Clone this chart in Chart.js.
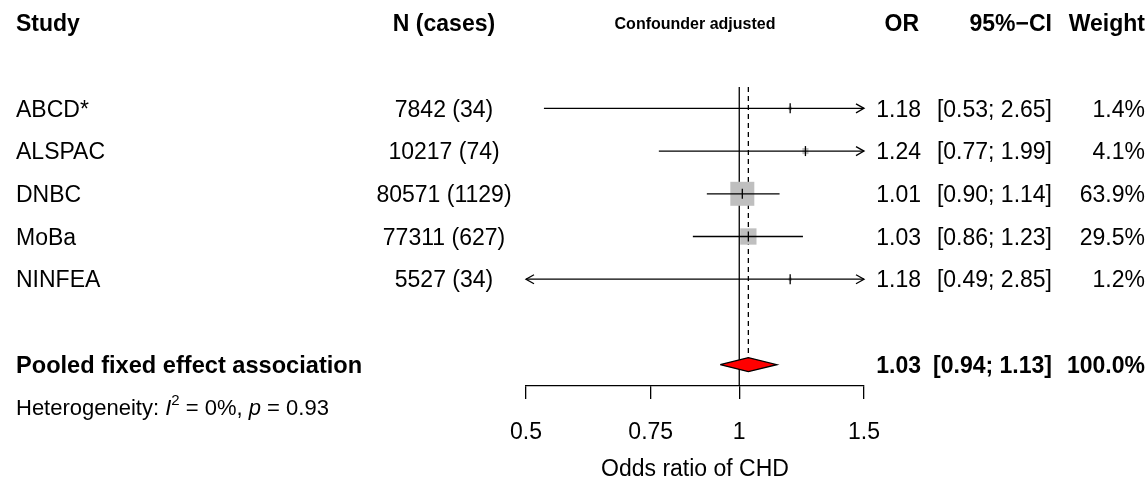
<!DOCTYPE html>
<html>
<head>
<meta charset="utf-8">
<script src="https://cdn.jsdelivr.net/npm/chart.js@4"></script>
<style>
  html, body { margin: 0; padding: 0; background: #fff; }
</style>
</head>
<body>
<canvas id="forest" width="1148" height="483"></canvas>
<script>
// study level data
const studies = ["ABCD*", "ALSPAC", "DNBC", "MoBa", "NINFEA"];
const nCases = ["7842 (34)", "10217 (74)", "80571 (1129)", "77311 (627)", "5527 (34)"];
const orValues = [1.18, 1.24, 1.01, 1.03, 1.18];
const ciLower = [0.53, 0.77, 0.90, 0.86, 0.49];
const ciUpper = [2.65, 1.99, 1.14, 1.23, 2.85];
const weights = [1.4, 4.1, 63.9, 29.5, 1.2];

// pooled estimate
const pooledLabel = "Pooled fixed effect association";
const pooledOR = 1.03;
const pooledLower = 0.94;
const pooledUpper = 1.13;
const pooledWeight = 100.0;
const hetI2 = "0%";
const hetP = "0.93";

// axis
const xTicks = [0.5, 0.75, 1, 1.5];
const xMin = 0.5;
const xMax = 1.5;

const FONT = "'Liberation Sans', Arial, Helvetica, sans-serif";
const FS = 23;
const LW = 1.3;
Chart.defaults.font.family = FONT;
Chart.defaults.color = "#000";

const studyRow = (i) => i + 2;
const pooledRow = 8;
const hetRow = 9;
const diamondHalf = 0.165;
const maxSquare = 24;

const fmt2 = (v) => v.toFixed(2);
const fmtW = (v) => v.toFixed(1) + "%";
const clampX = (v) => Math.min(Math.max(v, xMin), xMax);

const datasets = [];

// solid reference line at OR = 1
datasets.push({
  data: [{ x: 1, y: 1.5 }, { x: 1, y: 8.5 }],
  showLine: true, borderColor: "#000", borderWidth: LW, pointRadius: 0, order: 5,
});
// dashed line at pooled estimate
datasets.push({
  data: [{ x: pooledOR, y: 1.5 }, { x: pooledOR, y: pooledRow - diamondHalf }],
  showLine: true, borderColor: "#000", borderWidth: LW, borderDash: [5, 4], pointRadius: 0, order: 5,
});
// confidence intervals
studies.forEach((s, i) => {
  datasets.push({
    data: [{ x: clampX(ciLower[i]), y: studyRow(i) }, { x: clampX(ciUpper[i]), y: studyRow(i) }],
    showLine: true, borderColor: "#000", borderWidth: LW, pointRadius: 0, order: 3,
  });
});
// weighted squares
datasets.push({
  data: orValues.map((v, i) => ({ x: v, y: studyRow(i) })),
  pointStyle: "rect",
  pointRadius: weights.map((w) => (maxSquare * Math.sqrt(w / Math.max(...weights))) / Math.SQRT2),
  backgroundColor: "#bfbfbf", borderWidth: 0, order: 4,
});
// point estimate ticks
datasets.push({
  data: orValues.map((v, i) => ({ x: v, y: studyRow(i) })),
  pointStyle: "line", rotation: 90, pointRadius: 5,
  borderColor: "#000", borderWidth: LW, order: 1,
});
// pooled diamond
datasets.push({
  data: [
    { x: pooledLower, y: pooledRow },
    { x: pooledOR, y: pooledRow - diamondHalf },
    { x: pooledUpper, y: pooledRow },
    { x: pooledOR, y: pooledRow + diamondHalf },
    { x: pooledLower, y: pooledRow },
  ],
  showLine: true, fill: "shape", backgroundColor: "#ff0000",
  borderColor: "#000", borderWidth: LW, pointRadius: 0, order: 0,
});

const tablePlugin = {
  id: "table",
  afterDraw(chart) {
    const ctx = chart.ctx;
    const xs = chart.scales.x;
    const ys = chart.scales.y;
    const base = (row, size) => ys.getPixelForValue(row) + 0.358 * size;
    const put = (txt, x, row, align, weight, size) => {
      size = size || FS;
      ctx.font = (weight || "normal") + " " + size + "px " + FONT;
      ctx.textAlign = align;
      ctx.textBaseline = "alphabetic";
      ctx.fillText(txt, x, base(row, size));
    };
    ctx.save();
    ctx.fillStyle = "#000";

    // headers
    put("Study", 16, 0, "left", "bold");
    put("N (cases)", 444, 0, "center", "bold");
    put("Confounder adjusted", (chart.chartArea.left + chart.chartArea.right) / 2, 0, "center", "bold", 16);
    put("OR", 919, 0, "right", "bold");
    put("95%\u2212CI", 1052, 0, "right", "bold");
    put("Weight", 1145, 0, "right", "bold");

    // study rows
    studies.forEach((s, i) => {
      const r = studyRow(i);
      put(s, 16, r, "left");
      put(nCases[i], 444, r, "center");
      put(fmt2(orValues[i]), 921, r, "right");
      put("[" + fmt2(ciLower[i]) + "; " + fmt2(ciUpper[i]) + "]", 1052, r, "right");
      put(fmtW(weights[i]), 1145, r, "right");
    });

    // pooled row
    put(pooledLabel, 16, pooledRow, "left", "bold", 23.6);
    put(fmt2(pooledOR), 921, pooledRow, "right", "bold");
    put("[" + fmt2(pooledLower) + "; " + fmt2(pooledUpper) + "]", 1052, pooledRow, "right", "bold");
    put(fmtW(pooledWeight), 1145, pooledRow, "right", "bold");

    // heterogeneity line with italic + superscript
    const hs = 22;
    const yb = base(hetRow, hs);
    let x = 16;
    ctx.textAlign = "left";
    const piece = (txt, style, size, dy) => {
      ctx.font = style + " " + size + "px " + FONT;
      ctx.fillText(txt, x, yb + (dy || 0));
      x += ctx.measureText(txt).width;
    };
    piece("Heterogeneity: ", "normal", hs);
    piece("I", "italic", hs);
    piece("2", "normal", 15, -10);
    piece(" = " + hetI2 + ", ", "normal", hs);
    piece("p", "italic", hs);
    piece(" = " + hetP, "normal", hs);

    // arrows for intervals beyond the axis limits
    ctx.strokeStyle = "#000";
    ctx.lineWidth = LW;
    studies.forEach((s, i) => {
      const y = ys.getPixelForValue(studyRow(i));
      const ends = [];
      if (ciLower[i] < xMin) ends.push([xs.getPixelForValue(xMin), 1]);
      if (ciUpper[i] > xMax) ends.push([xs.getPixelForValue(xMax), -1]);
      ends.forEach(([px, dir]) => {
        ctx.beginPath();
        ctx.moveTo(px + dir * 8, y - 4.5);
        ctx.lineTo(px, y);
        ctx.lineTo(px + dir * 8, y + 4.5);
        ctx.stroke();
      });
    });
    ctx.restore();
  },
};

new Chart(document.getElementById("forest"), {
  type: "scatter",
  data: { datasets: datasets },
  options: {
    responsive: false,
    animation: false,
    devicePixelRatio: 1,
    layout: { padding: { left: 526, right: 284, top: 87, bottom: 0 } },
    plugins: { legend: { display: false }, tooltip: { enabled: false } },
    elements: { line: { tension: 0 } },
    datasets: { scatter: { clip: false } },
    scales: {
      x: {
        type: "logarithmic",
        min: xMin,
        max: xMax,
        afterBuildTicks: (s) => { s.ticks = xTicks.map((v) => ({ value: v })); },
        afterFit: (s) => { s.height = 97; },
        ticks: {
          callback: (v) => String(v),
          font: { size: FS },
          color: "#000",
          padding: 20,
          maxRotation: 0,
          autoSkip: false,
        },
        grid: { drawOnChartArea: false, drawTicks: true, tickLength: 13, color: "#000", lineWidth: LW },
        border: { display: true, color: "#000", width: LW },
        title: {
          display: true,
          text: "Odds ratio of CHD",
          font: { size: FS },
          color: "#000",
          padding: { top: 0, bottom: 0 },
        },
      },
      y: { type: "linear", min: 1.5, max: 8.5, reverse: true, display: false },
    },
  },
  plugins: [tablePlugin],
});
</script>
</body>
</html>
